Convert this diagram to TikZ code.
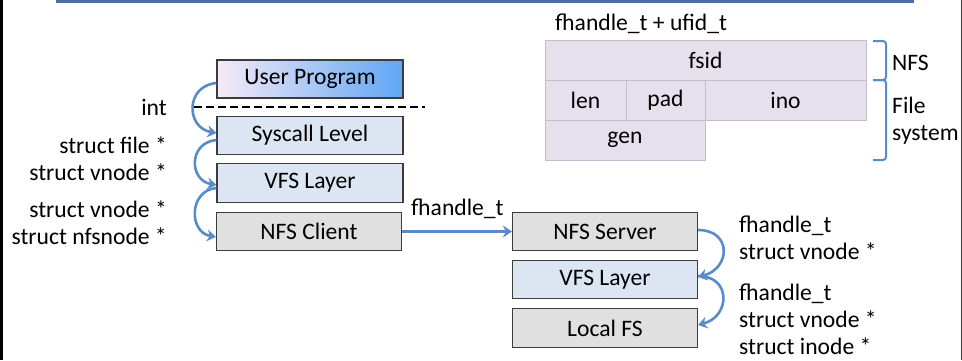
\documentclass[tikz,border=0pt]{standalone}
\usepackage{fontspec}
\setmainfont{Carlito}
\usetikzlibrary{arrows.meta}
\definecolor{framebar}{RGB}{74,111,160}
\definecolor{arrowblue}{RGB}{88,140,200}
\definecolor{boxedge}{RGB}{60,60,60}
\definecolor{lightblue}{RGB}{220,230,242}
\definecolor{lightgray}{RGB}{224,224,224}
\definecolor{lavender}{RGB}{230,224,236}
\definecolor{lavedge}{RGB}{196,188,206}
\definecolor{upleft}{RGB}{246,234,246}
\definecolor{upright}{RGB}{96,166,245}
\tikzset{
  txt/.style={font=\fontsize{23.6}{27}\selectfont, inner sep=0pt},
  layerbox/.style={txt, draw=boxedge, line width=1.2pt, minimum width=185pt, minimum height=38.5pt},
  bluebox/.style={layerbox, fill=lightblue},
  graybox/.style={layerbox, fill=lightgray},
  cell/.style={txt, draw=lavedge, line width=1pt, fill=lavender, minimum height=40pt},
  lbl/.style={txt, anchor=base east},
  rlbl/.style={txt, anchor=base west},
  flow/.style={draw=arrowblue, line width=2.6pt, -{Stealth[length=9pt,width=12pt,inset=3pt]}},
  bracket/.style={draw=arrowblue, line width=2pt, rounded corners=3pt}
}
\begin{document}
\begin{tikzpicture}[x=1pt,y=-1pt]
\useasboundingbox (0,0) rectangle (962,360);
% frame
\draw[framebar, line width=3pt] (56,1.2) -- (914,1.2);
\draw[black, line width=2.6pt] (1.5,0) -- (1.5,360);
\draw[boxedge, line width=1pt] (961,0) -- (961,360);

% left stack
\node[layerbox, shading=axis, left color=upleft, right color=upright, minimum width=186pt, minimum height=38pt] (up) at (310,79) {User Program};
\node[bluebox, minimum width=186pt] (sys) at (310,135.5) {Syscall Level};
\node[bluebox, minimum width=186pt] (vfsl) at (310,183) {VFS Layer};
\node[graybox] (nfsc) at (309,231.5) {NFS Client};

% dashed separator
\coordinate (d1) at (194,107);
\coordinate (d2) at (425,107);
\draw[black, line width=2.5pt, dash pattern=on 8pt off 4pt] (d1) -- (d2);

% left labels
\node[lbl] (lint) at (167,115) {int};
\node[lbl] (lfile) at (167,153) {struct file *};
\node[lbl] (lvn1) at (167,180) {struct vnode *};
\node[lbl] (lvn2) at (167,217) {struct vnode *};
\node[lbl] (lnfsn) at (167,244) {struct nfsnode *};

% right stack
\node[graybox] (nfss) at (605,231.5) {NFS Server};
\node[bluebox] (vfsr) at (605,279.5) {VFS Layer};
\node[graybox] (lfs) at (605,328) {Local FS};

% right labels
\node[rlbl] (rfh1) at (739,232) {fhandle\_t};
\node[rlbl] (rvn1) at (739,259) {struct vnode *};
\node[rlbl] (rfh2) at (739,300) {fhandle\_t};
\node[rlbl] (rvn2) at (739,327) {struct vnode *};
\node[rlbl] (rin) at (739,354) {struct inode *};

% middle connector
\node[rlbl] (mfh) at (411,215) {fhandle\_t};
\draw[flow] (nfsc.east) -- (nfss.west);

% curved connectors left
\draw[flow] ([yshift=-4pt]up.west) to[out=185,in=170,looseness=1.6] ([yshift=2.5pt]sys.west);
\draw[flow] ([yshift=-4.5pt]sys.west) to[out=185,in=170,looseness=1.6] ([yshift=-2pt]vfsl.west);
\draw[flow] ([yshift=-5pt]vfsl.west) to[out=185,in=170,looseness=1.45] ([yshift=-5.5pt]nfsc.west);

% curved connectors right
\draw[flow] ([yshift=1.5pt]nfss.east) to[out=0,in=15,looseness=1.85] ([yshift=2.5pt]vfsr.east);
\draw[flow] ([yshift=3.5pt]vfsr.east) to[out=0,in=15,looseness=1.75] ([yshift=3pt]lfs.east);

% handle structure
\node[rlbl] (fhu) at (555,30) {fhandle\_t + ufid\_t};
\node[cell, minimum width=321pt] (fsid) at (705.5,60) {fsid};
\node[cell, minimum width=81pt] (len) at (585.5,100) {len};
\node[cell, minimum width=79pt] (pad) at (665.5,100) {pad};
\node[cell, minimum width=161pt] (ino) at (785.5,100) {ino};
\node[cell, minimum width=160pt] (gen) at (625,140) {gen};

% brackets
\draw[bracket] (873,41) -- (886,41) -- (886,80) -- (873,80);
\draw[bracket] (873,80) -- (886,80) -- (886,160) -- (873,160);
\node[rlbl] (bnfs) at (892,70) {NFS};
\node[rlbl] (bfile) at (892,113) {File};
\node[rlbl] (bsys) at (892,140) {system};
\end{tikzpicture}
\end{document}
